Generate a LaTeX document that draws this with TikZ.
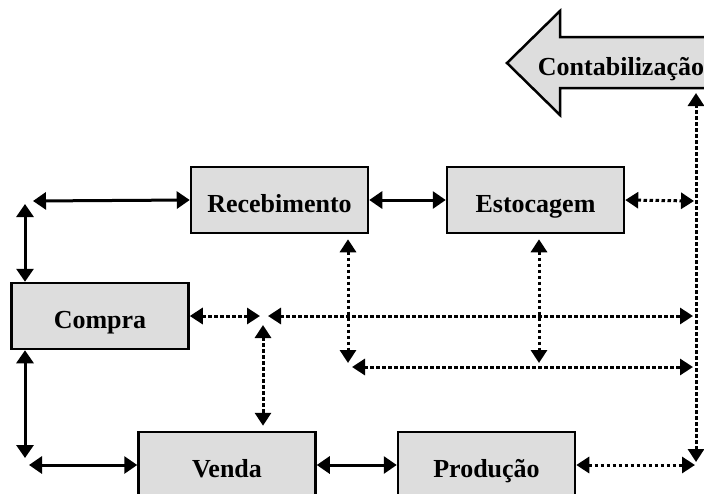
\documentclass[tikz,border=0pt]{standalone}
\usepackage{fontspec}
\setmainfont{Liberation Serif}
\usepackage{tikz}
\usetikzlibrary{arrows.meta}

\definecolor{boxgray}{HTML}{DDDDDD}

\begin{document}
\begin{tikzpicture}[x=1pt,y=-1pt,
    boxtext/.style={font=\fontsize{26}{30}\selectfont\bfseries,text height=24pt,text depth=0pt},
    box/.style={boxtext,draw,line width=2.5pt,fill=boxgray,minimum width=177pt,minimum height=66pt},
    solidlink/.style={line width=3pt,{Triangle[length=13pt,width=17pt]}-{Triangle[length=13pt,width=17pt]}},
    dotlink/.style={line width=3pt,dash pattern=on 3.5pt off 2.5pt,
        {Triangle[length=13pt,width=16pt]}-{Triangle[length=13pt,width=16pt]}}]
    \useasboundingbox (0,0) rectangle (704,493);

    % seta de contabilizacao
    \draw [line width=2.5pt,fill=boxgray] (507,63) -- (560,11) -- (560,37) -- (720,37)
        -- (720,88) -- (560,88) -- (560,115) -- cycle;
    \node [boxtext] (contab) at (621,63) {Contabilização};

    \node [box] (receb)    at (279.5,200) {Recebimento};
    \node [box] (estoc)    at (535.5,200) {Estocagem};
    \node [box] (compra)   at (100,316)   {Compra};
    \node [box] (venda)    at (227,465)   {Venda};
    \node [box] (producao) at (486.5,465) {Produção};

    \coordinate (lt1) at (33,201);
    \coordinate (lt2) at (25,204);
    \coordinate (lb1) at (25,458);
    \coordinate (lb2) at (29,465);
    \coordinate (j1)  at (260,316);
    \coordinate (j2)  at (268,316);
    \coordinate (j3)  at (263,325);
    \coordinate (m1)  at (348,363);
    \coordinate (m2)  at (539,363);
    \coordinate (m3)  at (352,367);
    \coordinate (r1)  at (693,316);
    \coordinate (r2)  at (693,367);
    \coordinate (r3)  at (694,201);
    \coordinate (r4)  at (695,465);
    \coordinate (rtop) at (696,93);
    \coordinate (rbot) at (696,462);

    % ligacoes cheias
    \draw [solidlink] (lt1) -- (receb.west);
    \draw [solidlink] (lt2) -- (lt2 |- compra.north);
    \draw [solidlink] (lt2 |- compra.south) -- (lb1);
    \draw [solidlink] (lb2) -- (venda.west);
    \draw [solidlink] (receb.east) -- (estoc.west);
    \draw [solidlink] (venda.east) -- (producao.west);

    % ligacoes pontilhadas
    \draw [dotlink] (compra.east) -- (j1);
    \draw [dotlink] (j2) -- (r1);
    \draw [dotlink,shorten >=5pt] (j3) -- (j3 |- venda.north);
    \draw [dotlink,shorten <=5pt] (m1 |- receb.south) -- (m1);
    \draw [dotlink,shorten <=5pt] (m2 |- estoc.south) -- (m2);
    \draw [dotlink] (m3) -- (r2);
    \draw [dotlink] (estoc.east) -- (r3);
    \draw [dotlink] (producao.east) -- (r4);
    \draw [dotlink] (rbot) -- (rtop);
\end{tikzpicture}
\end{document}
